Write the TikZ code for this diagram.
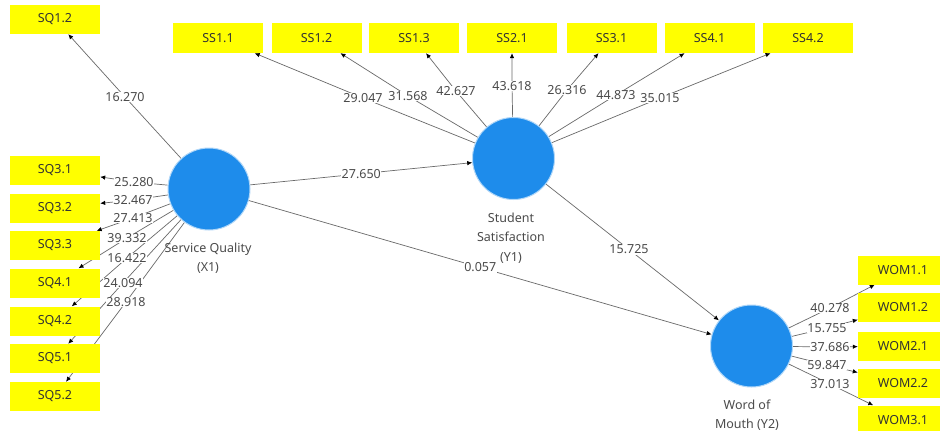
\documentclass[tikz,border=0pt]{standalone}
\usepackage{fontspec}
\setmainfont{Noto Sans}
\usetikzlibrary{arrows.meta,backgrounds}
\definecolor{boxyellow}{RGB}{255,255,0}
\definecolor{lvblue}{RGB}{30,140,235}
\definecolor{linegray}{RGB}{105,105,105}
\definecolor{txtgray}{RGB}{75,75,75}
\begin{document}
\begin{tikzpicture}[x=1pt,y=-1pt,
  ind/.style={rectangle, fill=boxyellow, minimum width=90pt, minimum height=29pt, inner sep=0pt, font=\fontsize{12.5}{14}\selectfont, text=black!80},
  lv/.style={circle, fill=lvblue, draw=lvblue!35, line width=1pt, minimum size=82pt, inner sep=0pt},
  lbl/.style={fill=white, inner sep=0.6pt, font=\fontsize{12.5}{14}\selectfont, text=txtgray},
  lvcap/.style={align=center, font=\fontsize{12.5}{19.5}\selectfont, text=txtgray},
  conn/.style={draw=linegray, line width=0.7pt, -{Latex[length=5pt,width=4.5pt,color=black]}}
]
\useasboundingbox (0,0) rectangle (940,431);

% latent variables
\node[lv] (sq) at (209,189) {};
\node[lv] (ss) at (513.5,158.5) {};
\node[lv] (wom) at (751.5,346) {};
\node[lvcap] (sqcap) at (208,258) {Service Quality\\(X1)};
\node[lvcap] (sscap) at (511,238) {Student\\Satisfaction\\(Y1)};
\node[lvcap] (womcap) at (747,415) {Word of\\Mouth (Y2)};

% indicators
\node[ind] (sq12) at (55,19.5) {SQ1.2};
\node[ind] (sq31) at (55,170) {SQ3.1};
\node[ind] (sq32) at (55,208) {SQ3.2};
\node[ind] (sq33) at (55,245.5) {SQ3.3};
\node[ind] (sq41) at (55,283) {SQ4.1};
\node[ind] (sq42) at (55,321) {SQ4.2};
\node[ind] (sq51) at (55,358.5) {SQ5.1};
\node[ind] (sq52) at (55,396.5) {SQ5.2};

\node[ind, minimum height=30pt] (ss11) at (218,38) {SS1.1};
\node[ind, minimum height=30pt] (ss12) at (316.5,38) {SS1.2};
\node[ind, minimum height=30pt] (ss13) at (414,38) {SS1.3};
\node[ind, minimum height=30pt] (ss21) at (512,38) {SS2.1};
\node[ind, minimum height=30pt] (ss31) at (611.5,38) {SS3.1};
\node[ind, minimum height=30pt] (ss41) at (709.5,38) {SS4.1};
\node[ind, minimum height=30pt] (ss42) at (808,38) {SS4.2};

\node[ind] (w11) at (903,270) {WOM1.1};
\node[ind] (w12) at (903,307.5) {WOM1.2};
\node[ind] (w21) at (903,346) {WOM2.1};
\node[ind] (w22) at (903,383.5) {WOM2.2};
\node[ind] (w31) at (903,420) {WOM3.1};

% loading labels
\node[lbl] (a0) at (125,97) {16.270};
\node[lbl] (a1) at (134,182) {25.280};
\node[lbl] (a2) at (133,200) {32.467};
\node[lbl] (a3) at (133,218) {27.413};
\node[lbl] (a4) at (127,238) {39.332};
\node[lbl] (a5) at (127,258) {16.422};
\node[lbl] (a6) at (123,283) {24.094};
\node[lbl] (a7) at (126,302) {28.918};

\node[lbl] (b1) at (363,98) {29.047};
\node[lbl] (b2) at (408,96) {31.568};
\node[lbl] (b3) at (456,91) {42.627};
\node[lbl] (b4) at (512,86) {43.618};
\node[lbl] (b5) at (567,90) {26.316};
\node[lbl] (b6) at (616,95) {44.873};
\node[lbl] (b7) at (660,98) {35.015};

\node[lbl] (c1) at (830,308) {40.278};
\node[lbl] (c2) at (827,328) {15.755};
\node[lbl] (c3) at (830,347) {37.686};
\node[lbl] (c4) at (827,365) {59.847};
\node[lbl] (c5) at (830,384) {37.013};

\begin{pgfonlayer}{background}
\fill[white] (0,0) rectangle (940,431);
% service quality loadings
\draw[conn] (sq) -- (a0.center) -- (sq12);
\draw[conn] (sq) -- (a1.center) -- (sq31);
\draw[conn] (sq) -- (a2.center) -- (sq32);
\draw[conn] (sq) -- (a3.center) -- (sq33);
\draw[conn] (sq) -- (a4.center) -- (sq41);
\draw[conn] (sq) -- (a5.center) -- (sq42);
\draw[conn] (sq) -- (a6.center) -- (sq51);
\draw[conn] (sq) -- (a7.center) -- (sq52);
% student satisfaction loadings
\draw[conn] (ss) -- (b1.center) -- (ss11);
\draw[conn] (ss) -- (b2.center) -- (ss12);
\draw[conn] (ss) -- (b3.center) -- (ss13);
\draw[conn] (ss) -- (b4.center) -- (ss21);
\draw[conn] (ss) -- (b5.center) -- (ss31);
\draw[conn] (ss) -- (b6.center) -- (ss41);
\draw[conn] (ss) -- (b7.center) -- (ss42);
% word of mouth loadings
\draw[conn] (wom) -- (c1.center) -- (w11);
\draw[conn] (wom) -- (c2.center) -- (w12);
\draw[conn] (wom) -- (c3.center) -- (w21);
\draw[conn] (wom) -- (c4.center) -- (w22);
\draw[conn] (wom) -- (c5.center) -- (w31);
\end{pgfonlayer}

% structural paths
\draw[conn] (sq) -- node[lbl, pos=0.5] (p1) {27.650} (ss);
\draw[conn] (sq) -- node[lbl, pos=0.5] (p2) {0.057} (wom);
\draw[conn] (ss) -- node[lbl, pos=0.48] (p3) {15.725} (wom);
\end{tikzpicture}
\end{document}
